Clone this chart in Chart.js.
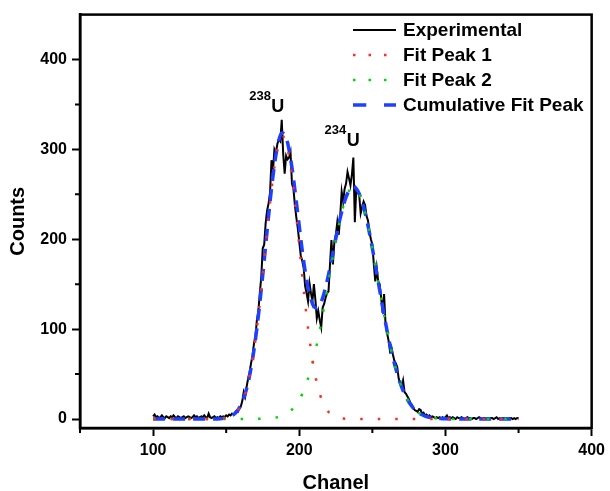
<!DOCTYPE html>
<html>
<head>
<meta charset="utf-8">
<title>Uranium alpha spectrum</title>
<script src="https://cdn.jsdelivr.net/npm/chart.js@4.4.1/dist/chart.umd.min.js"></script>
<style>
  html, body { margin: 0; padding: 0; background: #fff; }
  #wrap { width: 610px; height: 491px; }
  canvas { display: block; }
</style>
</head>
<body>
<div id="wrap"><canvas id="spectrum" width="610" height="491"></canvas></div>
<script>
// ── values ──
const expStart = 100; // first channel, one count value per channel
const expCounts = [
  3, 5, 2, 3, 1, 2, 4, 2, 1, 3,          // 100
  2, 1, 3, 2, 4, 2, 1, 3, 2, 1,          // 110
  2, 3, 1, 2, 3, 2, 1, 2, 4, 2,          // 120
  3, 1, 2, 3, 2, 4, 2, 1, 6, 2,          // 130
  1, 2, 3, 1, 2, 1, 3, 2, 3, 2,          // 140
  4, 3, 5, 4, 6, 5, 7, 9, 8, 12,         // 150
  14, 20, 30, 25, 36, 45, 52, 62, 70, 84,            // 160
  92, 110, 120, 140, 158, 190, 194, 218, 232, 240,   // 170
  252, 288, 276, 300, 296, 306, 311, 309, 333, 295,  // 180
  273, 293, 289, 291, 297, 262, 256, 238, 224, 212,  // 190
  197, 182, 176, 168, 148, 140, 131, 151, 140, 131,  // 200
  150, 133, 112, 120, 110, 102, 124, 128, 135, 140,  // 210
  142, 172, 199, 172, 197, 205, 219, 205, 226, 253,  // 220
  242, 256, 262, 275, 268, 260, 272, 291, 219, 256,  // 230
  252, 249, 229, 236, 242, 238, 226, 221, 208, 200,  // 240
  194, 172, 153, 168, 153, 150, 135, 118, 139, 106,  // 250
  96, 88, 76, 80, 72, 65, 62, 58, 45, 39,            // 260
  36, 43, 30, 28, 25, 22, 18, 16, 12, 10,            // 270
  9, 8, 11, 10, 6, 7, 4, 5, 3, 4,        // 280
  2, 3, 2, 1, 2, 1, 2, 1, 2, 1,          // 290
  2, 4, 1, 2, 1, 2, 1, 0, 2, 1,          // 300
  1, 2, 1, 0, 1, 2, 1, 1, 0, 1,          // 310
  1, 0, 1, 2, 1, 0, 1, 1, 0, 1,          // 320
  0, 1, 1, 0, 1, 2, 0, 1, 0, 1,          // 330
  1, 0, 1, 0, 1, 1, 0, 1, 0, 1,          // 340
  1                                      // 350
];

const fitChannels = [
  100, 110, 120, 130, 140, 146,
  148, 150, 152, 154, 156, 158, 160, 162, 164, 166, 168, 170, 172, 174, 176, 178, 180, 182, 184, 186, 188, 190, 192, 194, 196, 198,
  200, 202, 204, 206, 208, 210, 212, 214, 216, 218, 220, 222, 224, 226, 228, 230, 232, 234, 236, 238,
  240, 242, 244, 246, 248, 250, 252, 254, 256, 258, 260, 262, 264, 266, 268, 270, 272, 274, 276, 278,
  280, 282, 284, 286, 288, 290, 292, 294, 296, 298,
  300, 310, 320, 330, 340, 350
];
const fitPeak1 = [
  0, 0, 0, 0, 0.1, 0.4,
  0.7, 1.3, 2.2, 3.8, 6.2, 9.9, 15.4, 23.2, 33.9, 48, 66, 88, 114.5, 144, 176, 209, 241, 269, 292, 308, 315, 312, 301, 281, 256, 225,
  193, 160, 129, 101, 77, 56.5, 40.4, 28.1, 18.9, 12.4, 7.9, 4.9, 2.9, 1.7, 1.0, 0.5, 0.3, 0.1, 0, 0,
  0, 0, 0, 0, 0, 0, 0, 0, 0, 0, 0, 0, 0, 0, 0, 0, 0, 0, 0, 0,
  0, 0, 0, 0, 0, 0, 0, 0, 0, 0,
  0, 0, 0, 0, 0, 0
];
const fitPeak2 = [
  0, 0, 0, 0, 0, 0,
  0, 0, 0, 0, 0, 0, 0, 0, 0, 0.1, 0.1, 0.2, 0.2, 0.3, 0.4, 0.5, 0.7, 1.1, 1.6, 2.3, 3.3, 4.7, 6.5, 9.0, 12.2, 16.3,
  21.5, 27.9, 35.8, 45.1, 56.1, 68.7, 83, 98.8, 115.9, 134, 152.7, 171.5, 189.9, 207, 222.7, 236, 246.5, 253.8, 257.5, 257.5,
  253.8, 246.5, 236, 222.7, 207, 189.9, 171.5, 152.7, 134, 115.9, 98.8, 83, 68.7, 56.1, 45.1, 35.8, 27.9, 21.5, 16.3, 12.2,
  9.0, 6.5, 4.7, 3.3, 2.3, 1.6, 1.1, 0.7, 0.5, 0.3,
  0.2, 0, 0, 0, 0, 0
];
const fitCumulative = [
  0, 0, 0, 0, 0.1, 0.4,
  0.7, 1.3, 2.2, 3.8, 6.2, 9.9, 15.4, 23.2, 33.9, 48.1, 66.1, 88.2, 114.7, 144.3, 176.4, 209.5, 241.7, 270.1, 293.6, 310.3, 318.3, 316.7, 307.5, 290, 268.2, 241.3,
  214.5, 187.9, 164.8, 146.1, 133.1, 125.2, 123.4, 126.9, 134.8, 146.4, 160.6, 176.4, 192.8, 208.7, 223.7, 236.5, 246.8, 253.9, 257.5, 257.5,
  253.8, 246.5, 236, 222.7, 207, 189.9, 171.5, 152.7, 134, 115.9, 98.8, 83, 68.7, 56.1, 45.1, 35.8, 27.9, 21.5, 16.3, 12.2,
  9.0, 6.5, 4.7, 3.3, 2.3, 1.6, 1.1, 0.7, 0.5, 0.3,
  0.2, 0, 0, 0, 0, 0
];

const xTicks = [100, 200, 300, 400];
const yTicks = [0, 100, 200, 300, 400];
const xMinor = [50, 150, 250, 350];
const yMinor = [50, 150, 250, 350];

// isotope tags, anchored in data units (left edge of the element symbol, baseline)
const peakLabels = [
  { iso: '238', el: 'U', x: 180.9, y: 341.5 },
  { iso: '234', el: 'U', x: 232.5, y: 303.3 }
];

const FONT = "'Liberation Sans', Arial, Helvetica, sans-serif";
Chart.defaults.font.family = FONT;
Chart.defaults.font.weight = 'bold';
Chart.defaults.color = '#000';

const toPoints = vals => vals.map((v, i) => ({ x: fitChannels[i], y: v }));
const expPoints = expCounts.map((c, i) => ({ x: expStart + i, y: c }));

// frame on all four sides + short minor ticks
const framePlugin = {
  id: 'frame',
  afterDraw(chart) {
    const { ctx, chartArea: a, scales: { x, y } } = chart;
    ctx.save();
    ctx.strokeStyle = '#000';
    ctx.lineWidth = 2.5;
    ctx.strokeRect(a.left, a.top, a.right - a.left, a.bottom - a.top);
    ctx.lineWidth = 2;
    ctx.beginPath();
    xMinor.forEach(v => { const px = x.getPixelForValue(v); ctx.moveTo(px, a.bottom); ctx.lineTo(px, a.bottom + 5); });
    yMinor.forEach(v => { const py = y.getPixelForValue(v); ctx.moveTo(a.left, py); ctx.lineTo(a.left - 5, py); });
    ctx.stroke();
    ctx.restore();
  }
};

const peakLabelPlugin = {
  id: 'peakLabels',
  afterDatasetsDraw(chart) {
    const { ctx, scales: { x, y } } = chart;
    ctx.save();
    ctx.fillStyle = '#000';
    ctx.textBaseline = 'alphabetic';
    peakLabels.forEach(p => {
      const px = x.getPixelForValue(p.x), py = y.getPixelForValue(p.y);
      ctx.font = `bold 18px ${FONT}`;
      ctx.textAlign = 'left';
      ctx.fillText(p.el, px, py);
      ctx.font = `bold 13px ${FONT}`;
      ctx.textAlign = 'right';
      ctx.fillText(p.iso, px - 0.5, py - 12);
    });
    ctx.restore();
  }
};

// legend box inside the plot, top right
const legendPlugin = {
  id: 'boxLegend',
  afterDraw(chart) {
    const { ctx } = chart;
    ctx.save();
    chart.data.datasets.forEach((ds, i) => {
      const cy = 30 + i * 25;
      ctx.strokeStyle = ds.borderColor;
      ctx.lineWidth = ds.borderWidth;
      ctx.lineCap = 'butt';
      ctx.setLineDash(ds.legendDash || []);
      ctx.beginPath(); ctx.moveTo(353, cy); ctx.lineTo(396, cy); ctx.stroke();
      ctx.setLineDash([]);
      ctx.fillStyle = '#000';
      ctx.font = `bold 19px ${FONT}`;
      ctx.textAlign = 'left';
      ctx.textBaseline = 'middle';
      ctx.fillText(ds.label, 403, cy + 1);
    });
    ctx.restore();
  }
};

new Chart(document.getElementById('spectrum'), {
  type: 'line',
  data: {
    datasets: [
      { label: 'Experimental', data: expPoints, borderColor: '#000', borderWidth: 2, tension: 0, order: 4 },
      { label: 'Fit Peak 1', data: toPoints(fitPeak1), borderColor: '#ff2a2a', borderWidth: 2.5, borderDash: [2.5, 15], legendDash: [2.5, 13], cubicInterpolationMode: 'monotone', order: 1 },
      { label: 'Fit Peak 2', data: toPoints(fitPeak2), borderColor: '#00d800', borderWidth: 2.5, borderDash: [2.5, 15], legendDash: [2.5, 13], cubicInterpolationMode: 'monotone', order: 2 },
      { label: 'Cumulative Fit Peak', data: toPoints(fitCumulative), borderColor: '#1f40ff', borderWidth: 3.5, borderDash: [12, 8], legendDash: [13.3, 17.7], cubicInterpolationMode: 'monotone', order: 3 }
    ]
  },
  options: {
    responsive: false,
    animation: false,
    devicePixelRatio: 1,
    parsing: true,
    layout: { padding: { top: 12, right: 15, left: 0, bottom: 0 } },
    elements: { point: { radius: 0, hoverRadius: 0 } },
    plugins: { legend: { display: false }, tooltip: { enabled: false } },
    scales: {
      x: {
        type: 'linear', min: 50, max: 400,
        afterBuildTicks: s => { s.ticks = xTicks.map(v => ({ value: v })); },
        afterFit: s => { s.height = 63; },
        grid: { drawOnChartArea: false, tickLength: 8, tickWidth: 2, tickColor: '#000' },
        border: { display: true, color: '#000', width: 2.5 },
        ticks: { color: '#000', font: { size: 16, weight: 'bold' }, padding: 5, maxRotation: 0 },
        title: { display: true, text: 'Chanel', color: '#000', font: { size: 20, weight: 'bold' }, padding: { top: 0, bottom: -4 } }
      },
      y: {
        type: 'linear', min: -10, max: 450,
        afterBuildTicks: s => { s.ticks = yTicks.map(v => ({ value: v })); },
        afterFit: s => { s.width = 80; },
        grid: { drawOnChartArea: false, tickLength: 8, tickWidth: 2, tickColor: '#000' },
        border: { display: true, color: '#000', width: 2.5 },
        ticks: { color: '#000', font: { size: 16, weight: 'bold' }, padding: 5 },
        title: { display: true, text: 'Counts', color: '#000', font: { size: 20, weight: 'bold' }, padding: { top: 6, bottom: 0 } }
      }
    }
  },
  plugins: [framePlugin, peakLabelPlugin, legendPlugin]
});
</script>
</body>
</html>
